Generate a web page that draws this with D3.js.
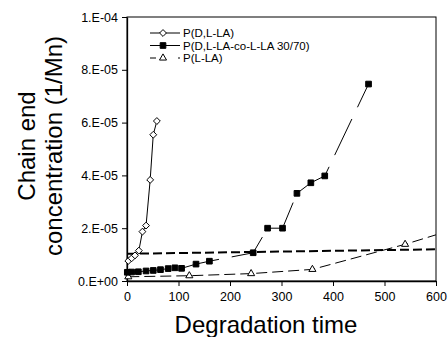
<!DOCTYPE html>
<html>
<head>
<meta charset="utf-8">
<script src="https://cdn.jsdelivr.net/npm/d3@7"></script>
<style>
  body { margin: 0; background: #fff; }
  svg { font-family: Arial, "Liberation Sans", sans-serif; }
</style>
</head>
<body>
<div id="chart"></div>
<script>
// degradation time (x) and chain end concentration 1/Mn (y)
var dlla_time = [2.5, 9, 15.5, 23, 30, 37, 45, 51, 58];
var dlla_conc = [7.6e-6, 8.6e-6, 9.7e-6, 1.15e-5, 1.87e-5, 2.1e-5, 3.83e-5, 5.54e-5, 6.06e-5];

var co_time = [0.6, 9, 22, 37, 51, 65, 80, 93, 106, 134, 160, 245, 273, 302, 330, 357, 384, 469];
var co_conc = [3.3e-6, 3.4e-6, 3.5e-6, 3.8e-6, 4.0e-6, 4.3e-6, 4.7e-6, 5.0e-6, 4.8e-6, 6.4e-6,
               7.5e-6, 1.07e-5, 2.0e-5, 2.0e-5, 3.32e-5, 3.72e-5, 3.98e-5, 7.46e-5];

var lla_time = [2.5, 121, 241, 360, 540];
var lla_conc = [1.6e-6, 2.0e-6, 2.8e-6, 4.4e-6, 1.39e-5];
// the P(L-LA) dashed line runs on to the right edge
var lla_line_end = {time: 600, conc: 1.75e-5};

// thick dashed reference line
var ref_time = [0, 600];
var ref_conc = [1.03e-5, 1.2e-5];

var xTicks = [0, 100, 200, 300, 400, 500, 600];
var yTicks = [0, 2e-5, 4e-5, 6e-5, 8e-5, 1e-4];
var yTickLabels = ["0.E+00", "2.E-05", "4.E-05", "6.E-05", "8.E-05", "1.E-04"];

var seriesNames = ["P(D,L-LA)", "P(D,L-LA-co-L-LA 30/70)", "P(L-LA)"];

var width = 448, height = 337,
    margin = {top: 17, right: 12, bottom: 56, left: 127},
    w = width - margin.left - margin.right,
    h = height - margin.top - margin.bottom;

var svg = d3.select("#chart").append("svg")
    .attr("width", width)
    .attr("height", height);

var g = svg.append("g")
    .attr("transform", "translate(" + margin.left + "," + margin.top + ")");

var x = d3.scaleLinear().domain([0, 600]).range([0, w]);
var y = d3.scaleLinear().domain([0, 1e-4]).range([h, 0]);

function zip(xs, ys) {
    return xs.map(function(d, i) { return {time: d, conc: ys[i]}; });
}

var dlla = zip(dlla_time, dlla_conc),
    co = zip(co_time, co_conc),
    lla = zip(lla_time, lla_conc),
    ref = zip(ref_time, ref_conc);

var line = d3.line()
    .x(function(d) { return x(d.time); })
    .y(function(d) { return y(d.conc); });

// frame
g.append("rect")
    .attr("width", w)
    .attr("height", h)
    .attr("fill", "none")
    .attr("stroke", "#000")
    .attr("stroke-width", 1);

// axes
var xAxis = g.append("g")
    .attr("transform", "translate(0," + h + ")")
    .call(d3.axisBottom(x).tickValues(xTicks).tickSize(5).tickPadding(6).tickSizeOuter(0));
var yAxis = g.append("g")
    .call(d3.axisLeft(y).tickValues(yTicks).tickSize(5).tickPadding(4).tickSizeOuter(0)
        .tickFormat(function(d, i) { return yTickLabels[i]; }));

[xAxis, yAxis].forEach(function(a) {
    a.selectAll("text").attr("font-size", 12.5).attr("fill", "#000")
        .attr("font-family", "Arial, 'Liberation Sans', sans-serif");
    a.selectAll("line").attr("stroke", "#000");
    a.select(".domain").attr("stroke", "#000").attr("stroke-width", 1.3);
});

// lines
g.append("path").datum(ref)
    .attr("d", line)
    .attr("fill", "none").attr("stroke", "#000")
    .attr("stroke-width", 2).attr("stroke-dasharray", "9,4");

g.append("path").datum(lla.concat([lla_line_end]))
    .attr("d", line)
    .attr("fill", "none").attr("stroke", "#000")
    .attr("stroke-width", 1).attr("stroke-dasharray", "11,5");

g.append("path").datum(co)
    .attr("d", line)
    .attr("fill", "none").attr("stroke", "#000")
    .attr("stroke-width", 1).attr("stroke-dasharray", "40,13");

g.append("path").datum(dlla)
    .attr("d", line)
    .attr("fill", "none").attr("stroke", "#000")
    .attr("stroke-width", 1);

// markers
var diamond = d3.symbol().type(d3.symbolDiamond2).size(30),
    square = d3.symbol().type(d3.symbolSquare).size(32),
    triangle = d3.symbol().type(d3.symbolTriangle2).size(36);

function markers(data, sym, fill) {
    g.append("g").selectAll("path")
        .data(data).enter()
        .append("path")
        .attr("transform", function(d) { return "translate(" + x(d.time) + "," + y(d.conc) + ")"; })
        .attr("d", sym)
        .attr("fill", fill)
        .attr("stroke", "#000")
        .attr("stroke-width", 1);
}
markers(lla, triangle, "#fff");
markers(co, square, "#000");
markers(dlla, diamond, "#fff");

// legend
var legendStyles = [
    {sym: diamond, fill: "#fff", dash: null},
    {sym: square, fill: "#000", dash: null},
    {sym: triangle, fill: "#fff", dash: "6,22"}
];
var legend = svg.append("g").attr("transform", "translate(150,33)");
var rows = legend.selectAll("g").data(seriesNames).enter()
    .append("g")
    .attr("transform", function(d, i) { return "translate(0," + (i * 12.5) + ")"; });
rows.append("line")
    .attr("x1", 0).attr("x2", 30)
    .attr("stroke", "#000").attr("stroke-width", 1)
    .attr("stroke-dasharray", function(d, i) { return legendStyles[i].dash; });
rows.append("path")
    .attr("transform", "translate(13,0)")
    .attr("d", function(d, i) { return legendStyles[i].sym(); })
    .attr("fill", function(d, i) { return legendStyles[i].fill; })
    .attr("stroke", "#000");
rows.append("text")
    .attr("x", 33).attr("dy", "0.35em")
    .attr("font-size", 11.5)
    .text(function(d) { return d; });

// axis titles
svg.append("text")
    .attr("x", 266)
    .attr("y", 333)
    .attr("text-anchor", "middle")
    .attr("font-size", 24)
    .text("Degradation time");

svg.append("text")
    .attr("transform", "translate(35,146) rotate(-90)")
    .attr("text-anchor", "middle")
    .attr("font-size", 24)
    .text("Chain end");
svg.append("text")
    .attr("transform", "translate(62,146) rotate(-90)")
    .attr("text-anchor", "middle")
    .attr("font-size", 24)
    .text("concentration (1/Mn)");
</script>
</body>
</html>
